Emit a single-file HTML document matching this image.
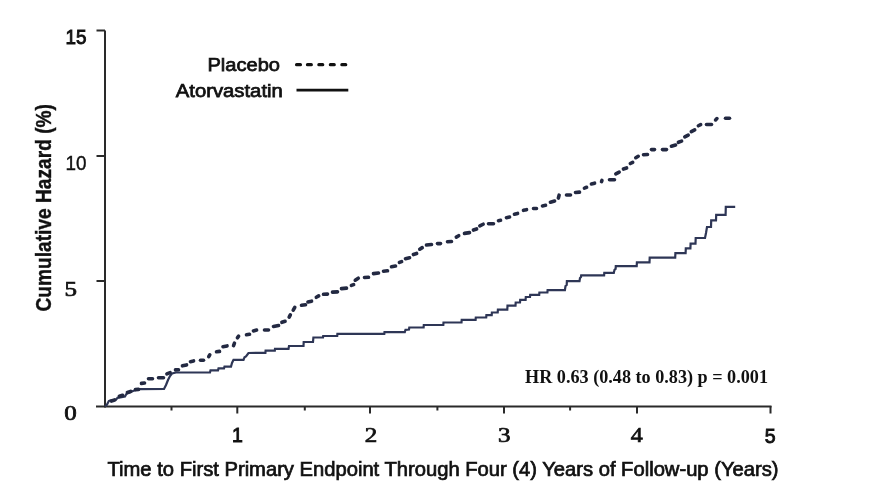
<!DOCTYPE html>
<html><head><meta charset="utf-8"><title>Cumulative Hazard</title>
<style>
html,body{margin:0;padding:0;background:#fff;}
body{width:872px;height:500px;overflow:hidden;}
svg{display:block;}
.s{font-family:'Liberation Sans', Arial, sans-serif;}
.r{font-family:'Liberation Serif', 'Times New Roman', serif;}
</style></head><body>
<svg width="872" height="500" viewBox="0 0 872 500">
<rect width="872" height="500" fill="#fff"/>
<g stroke="#2a2a2a" stroke-width="2" fill="none" stroke-linecap="butt">
<path d="M105 30.5 V407.5"/>
<path d="M96 406.5 H771.5"/>
<path d="M96.5 30.5 H105 M96.5 156 H105 M96.5 281 H105"/>
<path d="M237.3 406 V413.5 M370 406 V413.5 M504 406 V413.5 M637 406 V413.5 M770.5 406 V413.5"/>
<path d="M171.5 406 V410.5 M304.8 406 V410.5 M437.4 406 V410.5 M570.1 406 V410.5"/>
</g>
<polyline fill="none" stroke="#2e3656" stroke-width="2.2" stroke-linejoin="miter" points="105,406.5 107,404.5 108.8,401 110,400.5 116,399.8 117.5,397.8 125,396.4 126.5,393.8 130,392.2 133,391 136,390 140,389.2 164,389 166,385 168,380 170,376 172,373.5 176,372.5 210,372.3 210.5,370.4 218,370.4 218.5,368.4 224,368.4 224.5,366.6 231,366.6 232,363 233.5,359.8 243.5,359.8 244.5,357.3 246,356.5 248.5,353 265.4,352.8 265.6,350.7 274.8,350.7 275,348.9 288.5,348.9 289,346 303.5,346 303.7,342 313,342 313.4,337.5 323,337.5 323.2,336 337.2,336 337.4,333.8 384.3,333.8 384.5,332.1 404.8,332.1 405.5,329.8 409,329.5 409.3,327.5 423.6,327.5 423.8,325 443.3,325 443.5,322.5 461.5,322.5 461.7,319.9 475.6,319.9 475.8,317.5 486.2,317.5 486.4,315.1 491.7,315.1 491.9,312.5 497.7,312.5 497.9,309.7 507.3,309.7 507.5,305.6 515.5,305.6 515.7,302.5 520,302.5 520.2,299.8 525.6,299.8 525.8,297 530,297 530.2,294.8 539.2,294.8 539.4,292.5 547.4,292.5 547.6,290.1 564.9,290.1 565.5,286 566.7,285 566.9,281.1 579.5,281.1 580,278 581,277 581.2,275.4 604.1,275.4 604.3,272.9 613.8,272.9 614.5,269.8 615.6,269 615.8,266.1 636.7,266.1 636.9,262.4 649.5,262.4 649.7,257.7 675.2,257.7 675.4,253.2 685.6,253.2 685.8,248.4 690.4,248.4 690.6,243.6 695.5,243.6 695.7,238 705,238 706,233 707,227 711,227 711.2,220.4 716,220.4 716.2,214.8 725.6,214.8 725.8,206.8 735.2,206.8"/>
<g stroke="#232942" stroke-width="3.6" stroke-linecap="round">
<line x1="111.42" y1="401.03" x2="114.58" y2="399.97"/><line x1="119.42" y1="396.33" x2="122.58" y2="395.27"/><line x1="127.42" y1="392.53" x2="130.58" y2="391.47"/><line x1="135.49" y1="389.65" x2="138.51" y2="389.35"/><line x1="141.49" y1="383.40" x2="144.51" y2="383.00"/><line x1="148.50" y1="378.70" x2="152.50" y2="378.70"/><line x1="158.50" y1="377.80" x2="163.50" y2="377.80"/><line x1="166.88" y1="373.92" x2="170.12" y2="372.58"/><line x1="175.50" y1="369.90" x2="178.50" y2="369.70"/><line x1="182.46" y1="365.87" x2="186.54" y2="364.93"/><line x1="190.46" y1="361.66" x2="193.54" y2="360.94"/><line x1="200.50" y1="360.20" x2="203.50" y2="360.20"/><line x1="208.73" y1="356.69" x2="209.77" y2="354.81"/><line x1="216.49" y1="351.80" x2="219.51" y2="351.40"/><line x1="222.97" y1="346.71" x2="227.03" y2="345.89"/><line x1="233.54" y1="345.60" x2="234.46" y2="343.20"/><line x1="237.40" y1="337.80" x2="238.60" y2="336.20"/><line x1="246.48" y1="334.75" x2="249.52" y2="334.25"/><line x1="253.45" y1="330.91" x2="256.55" y2="330.09"/><line x1="264.50" y1="330.00" x2="268.50" y2="330.00"/><line x1="273.47" y1="326.51" x2="278.53" y2="325.49"/><line x1="281.92" y1="322.33" x2="285.08" y2="321.27"/><line x1="289.17" y1="317.16" x2="290.33" y2="314.84"/><line x1="293.22" y1="310.18" x2="294.78" y2="307.32"/><line x1="301.48" y1="305.29" x2="305.52" y2="304.71"/><line x1="307.96" y1="302.04" x2="311.54" y2="301.16"/><line x1="316.31" y1="297.27" x2="318.69" y2="295.93"/><line x1="323.50" y1="294.31" x2="327.50" y2="294.09"/><line x1="332.50" y1="292.13" x2="337.50" y2="291.87"/><line x1="341.49" y1="288.65" x2="346.51" y2="288.15"/><line x1="351.39" y1="285.44" x2="353.61" y2="284.56"/><line x1="355.24" y1="280.16" x2="358.26" y2="278.14"/><line x1="364.50" y1="277.51" x2="368.50" y2="277.29"/><line x1="373.49" y1="273.61" x2="378.51" y2="272.99"/><line x1="383.49" y1="271.17" x2="387.51" y2="270.83"/><line x1="391.48" y1="266.75" x2="395.52" y2="266.05"/><line x1="399.39" y1="262.44" x2="401.61" y2="261.56"/><line x1="405.46" y1="258.67" x2="409.54" y2="257.73"/><line x1="413.42" y1="254.53" x2="416.58" y2="253.47"/><line x1="419.76" y1="249.19" x2="422.24" y2="247.61"/><line x1="426.49" y1="245.05" x2="431.51" y2="244.55"/><line x1="437.50" y1="243.60" x2="440.50" y2="243.60"/><line x1="447.50" y1="241.71" x2="451.50" y2="241.49"/><line x1="456.31" y1="237.07" x2="458.69" y2="235.73"/><line x1="464.48" y1="233.38" x2="469.52" y2="232.62"/><line x1="473.42" y1="230.03" x2="476.58" y2="228.97"/><line x1="479.85" y1="225.85" x2="483.15" y2="224.25"/><line x1="488.50" y1="223.70" x2="493.50" y2="223.70"/><line x1="498.47" y1="220.71" x2="500.53" y2="220.29"/><line x1="506.47" y1="217.71" x2="509.53" y2="217.09"/><line x1="514.45" y1="214.21" x2="517.55" y2="213.39"/><line x1="523.47" y1="210.31" x2="526.53" y2="209.69"/><line x1="533.50" y1="208.55" x2="536.50" y2="208.45"/><line x1="542.47" y1="205.91" x2="545.53" y2="205.29"/><line x1="550.44" y1="202.19" x2="554.56" y2="201.01"/><line x1="558.38" y1="198.05" x2="559.12" y2="195.15"/><line x1="566.50" y1="195.00" x2="570.50" y2="195.00"/><line x1="575.49" y1="192.47" x2="579.51" y2="192.13"/><line x1="584.41" y1="188.09" x2="586.59" y2="187.31"/><line x1="591.45" y1="184.01" x2="594.55" y2="183.19"/><line x1="601.53" y1="181.60" x2="601.97" y2="180.40"/><line x1="609.50" y1="179.70" x2="614.50" y2="179.70"/><line x1="615.84" y1="173.83" x2="619.16" y2="172.17"/><line x1="623.42" y1="169.03" x2="626.58" y2="167.97"/><line x1="630.33" y1="163.51" x2="632.67" y2="162.29"/><line x1="635.79" y1="157.73" x2="638.21" y2="156.27"/><line x1="643.50" y1="154.71" x2="647.50" y2="154.49"/><line x1="651.50" y1="149.60" x2="654.50" y2="149.60"/><line x1="662.50" y1="149.60" x2="666.50" y2="149.60"/><line x1="671.44" y1="146.19" x2="675.56" y2="145.01"/><line x1="678.41" y1="142.28" x2="681.59" y2="141.12"/><line x1="684.82" y1="136.89" x2="688.18" y2="135.11"/><line x1="691.32" y1="131.69" x2="694.68" y2="129.91"/><line x1="698.35" y1="125.75" x2="700.65" y2="124.65"/><line x1="706.50" y1="124.50" x2="711.50" y2="124.50"/><line x1="715.56" y1="119.94" x2="716.94" y2="118.56"/><line x1="725.50" y1="118.20" x2="729.50" y2="118.20"/>
</g>
<g fill="#111">
<g stroke="#111" stroke-width="0.9">
<text class="s" x="65.5" y="43.6" font-size="19.5" textLength="21" lengthAdjust="spacingAndGlyphs">15</text>
<text class="s" x="65.5" y="170" font-size="19.5" stroke-width="0.4" textLength="21" lengthAdjust="spacingAndGlyphs">10</text>
<text class="s" x="237.4" y="442" font-size="19.5" text-anchor="middle">1</text>
<text class="s" x="770.2" y="443" font-size="19.5" text-anchor="middle">5</text>
<text class="s" x="207.4" y="70.5" font-size="18.8" stroke-width="0.75" textLength="72.6" lengthAdjust="spacingAndGlyphs">Placebo</text>
<text class="s" x="175.8" y="96.9" font-size="18.8" stroke-width="0.75" textLength="107" lengthAdjust="spacingAndGlyphs">Atorvastatin</text>
<text class="s" x="107.5" y="475.6" font-size="19.3" stroke-width="0.7" textLength="671" lengthAdjust="spacingAndGlyphs">Time to First Primary Endpoint Through Four (4) Years of Follow-up (Years)</text>
</g>
<g stroke="#111" stroke-width="0.7">
<text class="r" x="64.5" y="296" font-size="20" textLength="12.5" lengthAdjust="spacingAndGlyphs">5</text>
<text class="r" x="64.3" y="419.8" font-size="20" textLength="12.5" lengthAdjust="spacingAndGlyphs">0</text>
<text class="r" x="364.8" y="442" font-size="20" textLength="12.5" lengthAdjust="spacingAndGlyphs">2</text>
<text class="r" x="498" y="442" font-size="20" textLength="12.5" lengthAdjust="spacingAndGlyphs">3</text>
<text class="r" x="630.8" y="442" font-size="20" textLength="12" lengthAdjust="spacingAndGlyphs">4</text>
</g>
<text class="s" transform="translate(51.3 311.5) rotate(-90)" x="0" y="0" font-size="22" font-weight="bold" stroke="#111" stroke-width="0.4" textLength="207.5" lengthAdjust="spacingAndGlyphs">Cumulative Hazard (%)</text>
<text class="r" x="525" y="383" font-size="18" font-weight="bold" textLength="243" lengthAdjust="spacingAndGlyphs">HR 0.63 (0.48 to 0.83) p = 0.001</text>
</g>
<g stroke="#111" stroke-width="3.3" fill="none" stroke-linecap="round">
<path d="M296.6 64.7 H300.4 M307.5 64.7 H311.3 M318.9 64.7 H322.7 M330.4 64.7 H334.2 M341.9 64.7 H345.7"/>
</g>
<path d="M296.5 90.1 H348.3" stroke="#111" stroke-width="2.6"/>
</svg>
</body></html>
